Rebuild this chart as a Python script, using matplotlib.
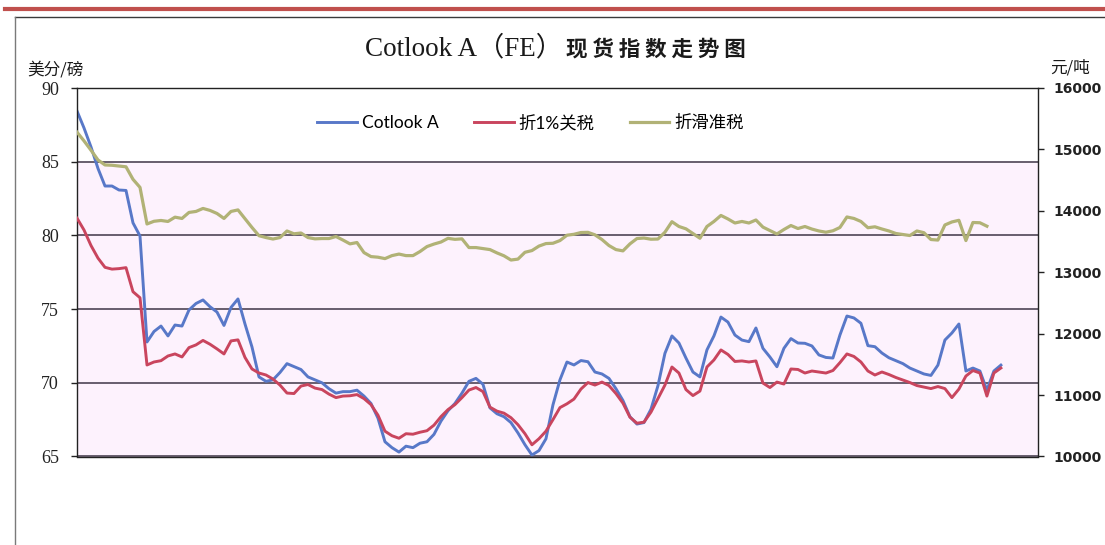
import numpy as np
import matplotlib
matplotlib.use('Agg')
import matplotlib.pyplot as plt
from matplotlib.lines import Line2D

plt.rcParams['font.family'] = ['Liberation Serif', 'Noto Sans CJK SC', 'DejaVu Sans']

nan = np.nan

# ---- data (trading-day index; x-axis labels not legible in the reference) ----
day_index = list(range(133))

cotlook_a = [
    88.44, 87.29, 86.00, 84.54, 83.35, 83.35, 83.08, 83.05, 80.85, 79.96,
    72.77, 73.48, 73.85, 73.18, 73.92, 73.85, 74.94, 75.38, 75.62, 75.16,
    74.80, 73.89, 75.11, 75.69, 73.99, 72.43, 70.40, 70.10, 70.20, 70.70,
    71.30, 71.10, 70.90, 70.40, 70.20, 70.00, 69.60, 69.30, 69.40, 69.40,
    69.50, 69.10, 68.60, 67.60, 66.00, 65.60, 65.30, 65.70, 65.60, 65.90,
    66.00, 66.50, 67.40, 68.10, 68.60, 69.30, 70.10, 70.30, 69.90, 68.30,
    67.90, 67.70, 67.30, 66.60, 65.80, 65.10, 65.40, 66.20, 68.50, 70.20,
    71.41, 71.21, 71.51, 71.43, 70.73, 70.60, 70.30, 69.60, 68.80, 67.70,
    67.20, 67.30, 68.20, 69.80, 72.00, 73.18, 72.70, 71.68, 70.73, 70.40,
    72.23, 73.18, 74.46, 74.12, 73.24, 72.90, 72.79, 73.72, 72.34, 71.75,
    71.09, 72.34, 73.00, 72.70, 72.68, 72.50, 71.89, 71.72, 71.68, 73.24,
    74.53, 74.40, 74.04, 72.52, 72.45, 72.02, 71.70, 71.50, 71.30, 71.00,
    70.80, 70.60, 70.50, 71.20, 72.90, 73.38, 73.99, 70.80, 71.00, 70.80,
    69.50, 70.80, 71.20,
]

tariff_1pct = [
    13881, 13688, 13435, 13230, 13080, 13051, 13059, 13075, 12683, 12585,
    11490, 11539, 11560, 11637, 11670, 11621, 11773, 11817, 11890, 11828,
    11752, 11670, 11882, 11899, 11613, 11425, 11359, 11327, 11261, 11163,
    11033, 11025, 11147, 11172, 11114, 11090, 11016, 10959, 10984, 10989,
    11008, 10943, 10845, 10673, 10412, 10338, 10297, 10371, 10363, 10395,
    10420, 10510, 10649, 10763, 10845, 10959, 11082, 11123, 11057, 10804,
    10739, 10706, 10632, 10518, 10371, 10191, 10289, 10412, 10600, 10796,
    10858, 10935, 11098, 11204, 11163, 11212, 11155, 11025, 10869, 10640,
    10542, 10559, 10722, 10943, 11163, 11457, 11359, 11090, 10992, 11065,
    11457, 11572, 11735, 11662, 11547, 11556, 11539, 11556, 11196, 11123,
    11212, 11180, 11425, 11417, 11359, 11392, 11376, 11359, 11400, 11528,
    11670, 11629, 11539, 11392, 11327, 11376, 11335, 11286, 11245, 11204,
    11155, 11131, 11106, 11139, 11106, 10959, 11098, 11310, 11400, 11359,
    10984, 11359, 11441,
]

sliding_tax = [
    15281, 15139, 14987, 14828, 14747, 14742, 14730, 14717, 14513, 14382,
    13786, 13830, 13843, 13827, 13897, 13876, 13974, 13990, 14039, 14007,
    13957, 13876, 13990, 14015, 13871, 13729, 13595, 13565, 13541, 13565,
    13672, 13626, 13639, 13565, 13544, 13549, 13549, 13582, 13524, 13462,
    13484, 13320, 13255, 13245, 13222, 13271, 13296, 13271, 13271, 13337,
    13418, 13459, 13492, 13552, 13536, 13544, 13402, 13402, 13386, 13369,
    13315, 13268, 13199, 13214, 13325, 13353, 13426, 13467, 13472, 13516,
    13603, 13618, 13647, 13650, 13609, 13533, 13435, 13369, 13348, 13462,
    13549, 13557, 13538, 13541, 13652, 13823, 13745, 13707, 13631, 13554,
    13745, 13827, 13925, 13868, 13802, 13827, 13802, 13851, 13735, 13680,
    13623, 13696, 13761, 13712, 13745, 13703, 13672, 13652, 13675, 13729,
    13900, 13876, 13827, 13725, 13740, 13704, 13672, 13631, 13614, 13598,
    13672, 13644, 13533, 13524, 13770, 13819, 13846, 13516, 13810, 13806,
    13750, nan, nan,
]

series_labels = ['Cotlook A', '折1%关税', '折滑准税']
series_colors = ['#5878C8', '#C9455E', '#B1B276']
left_ticks = [65, 70, 75, 80, 85, 90]
right_ticks = [10000, 11000, 12000, 13000, 14000, 15000, 16000]
title_latin = 'Cotlook A（FE）'
title_cjk = '现 货 指 数 走 势 图'

W, H = 1105, 545
fig = plt.figure(figsize=(W / 100, H / 100), dpi=100)
fig.patch.set_facecolor('white')

# decorative header rule and chart frame
fig.add_artist(Line2D([5 / W, 1], [1 - 8.5 / H] * 2, color='#C0504D', lw=3.0))
fig.add_artist(Line2D([15 / W, 1], [1 - 17 / H] * 2, color='#3A3A3A', lw=1.0))
fig.add_artist(Line2D([15 / W] * 2, [0, 1 - 17 / H], color='#7A7A7A', lw=1.0))

ax = fig.add_axes([77 / W, 1 - 456.5 / H, (1038 - 77) / W, (456.5 - 88) / H])
ax.set_facecolor('#FDF2FD')
ax.set_axisbelow(True)
ax.axhspan(85, 90, color='white', zorder=0)
ax.set_xlim(0, 137.3)
ax.set_ylim(65, 90)
ax.set_yticks(left_ticks)
ax.set_xticks([])
ax.grid(axis='y', color='#5C5262', lw=1.3)
for s in ['left', 'right', 'bottom', 'top']:
    ax.spines[s].set_color('#222222')
    ax.spines[s].set_linewidth(1.0)
ax.tick_params(axis='y', direction='out', length=4, width=1, pad=9,
               labelsize=13, colors='#222222')

l1, = ax.plot(day_index, cotlook_a, color=series_colors[0], lw=2.1,
              label=series_labels[0])

ax2 = ax.twinx()
ax2.set_ylim(10000, 16000)
ax2.set_yticks(right_ticks)
ax2.tick_params(axis='y', direction='out', length=4, width=1, pad=7,
                colors='#222222')
for lab in ax2.get_yticklabels():
    lab.set_family('DejaVu Sans')
    lab.set_fontweight('bold')
    lab.set_fontsize(10)
for s in ['left', 'right', 'bottom', 'top']:
    ax2.spines[s].set_visible(False)

l2, = ax2.plot(day_index, tariff_1pct, color=series_colors[1], lw=2.1,
               label=series_labels[1])
l3, = ax2.plot(day_index, sliding_tax, color=series_colors[2], lw=2.3,
               label=series_labels[2])

leg = ax2.legend(handles=[l1, l2, l3], labels=series_labels, ncol=3,
                 loc='center', bbox_to_anchor=(0.472, 0.905), frameon=False,
                 handlelength=2.3, columnspacing=2.0, handletextpad=0.3,
                 prop={'family': ['Lato', 'Noto Sans CJK SC'], 'size': 12.5})

fig.text(365 / W, 1 - 49 / H, title_latin, ha='left', va='center',
         fontsize=19.5, family=['Liberation Serif', 'Noto Sans CJK SC'],
         color='#1A1A1A')
fig.text(746 / W, 1 - 49 / H, title_cjk, ha='right', va='center',
         fontsize=15.5, fontweight='bold',
         family=['Noto Sans CJK SC', 'DejaVu Sans'], color='#1A1A1A')
fig.text(27 / W, 1 - 70 / H, '美分/磅', ha='left', va='center', fontsize=12,
         family=['Noto Sans CJK SC', 'DejaVu Sans'], color='#1A1A1A')
fig.text(1050 / W, 1 - 68 / H, '元/吨', ha='left', va='center', fontsize=12,
         family=['Noto Sans CJK SC', 'DejaVu Sans'], color='#1A1A1A')

fig.savefig('out.png', dpi=100, facecolor='white')
